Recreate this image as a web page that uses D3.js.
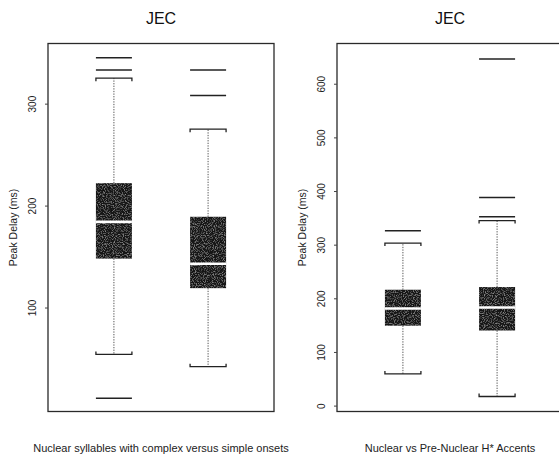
<!DOCTYPE html>
<html>
<head>
<meta charset="utf-8">
<script src="https://cdn.jsdelivr.net/npm/d3@7"></script>
<style>
  body { margin: 0; background: #fff; }
  svg { display: block; font-family: "Liberation Sans", Arial, sans-serif; }
</style>
</head>
<body>
<div id="chart"></div>
<script>
// Left panel: nuclear syllables, complex vs simple onsets
const leftCategories = ["Complex onset", "Simple onset"];
const leftLowerWhisker = [54, 42];
const leftQ1 = [148, 119];
const leftMedian = [184, 143];
const leftQ3 = [222, 189];
const leftUpperWhisker = [325, 275];
const leftOutliers = [[11, 333, 345], [308, 333]];
const leftTicks = [100, 200, 300];
const leftDomain = [-2, 359];

// Right panel: nuclear vs pre-nuclear H* accents
const rightCategories = ["Nuclear", "Pre-nuclear"];
const rightLowerWhisker = [59, 17];
const rightQ1 = [149, 140];
const rightMedian = [181, 183];
const rightQ3 = [216, 221];
const rightUpperWhisker = [303, 345];
const rightOutliers = [[326], [352, 388, 646]];
const rightTicks = [0, 100, 200, 300, 400, 500, 600];
const rightDomain = [-11, 675];

const W = 559, H = 454;
const plotTop = 43.5, plotBottom = 411.5, plotWidth = 226;
const boxW = 36;

const svg = d3.select("#chart").append("svg")
  .attr("width", W)
  .attr("height", H);

// scanned grain for the box fill
const defs = svg.append("defs");
const f = defs.append("filter").attr("id", "grain")
  .attr("x", 0).attr("y", 0).attr("width", 1).attr("height", 1);
f.append("feTurbulence").attr("type", "fractalNoise")
  .attr("baseFrequency", 0.9).attr("numOctaves", 1).attr("seed", 7).attr("result", "noise");
f.append("feColorMatrix").attr("in", "noise").attr("type", "matrix")
  .attr("values", "0 0 0 0 0.5 0 0 0 0 0.5 0 0 0 0 0.5 1.6 0 0 0 -0.78")
  .attr("result", "spk");
f.append("feComposite").attr("in", "spk").attr("in2", "SourceGraphic")
  .attr("operator", "in").attr("result", "spkIn");
const fm = f.append("feMerge");
fm.append("feMergeNode").attr("in", "SourceGraphic");
fm.append("feMergeNode").attr("in", "spkIn");

function drawPanel(left, cats, lo, q1, med, q3, hi, outs, ticks, domain, xlab) {
  const g = svg.append("g");
  const x = d3.scalePoint().domain(cats).range([left, left + plotWidth]).padding(0.7);
  const y = d3.scaleLinear().domain(domain).range([plotBottom, plotTop]);

  const rows = cats.map((c, i) => ({c, lo: lo[i], q1: q1[i], med: med[i], q3: q3[i], hi: hi[i], outs: outs[i]}));

  // frame
  g.append("rect")
    .attr("x", left).attr("y", plotTop)
    .attr("width", plotWidth).attr("height", plotBottom - plotTop)
    .attr("fill", "none").attr("stroke", "#2a2a2a").attr("stroke-width", 1.3);

  // y axis
  const axis = g.append("g")
    .attr("transform", `translate(${left},0)`)
    .call(d3.axisLeft(y).tickValues(ticks).tickSize(3).tickFormat(d3.format("d")));
  axis.select(".domain").remove();
  axis.selectAll(".tick line").attr("stroke", "#444");
  axis.selectAll(".tick text")
    .attr("x", null).attr("dy", null)
    .attr("transform", "translate(-12,0) rotate(-90)")
    .attr("text-anchor", "middle")
    .attr("font-size", 10)
    .attr("font-family", "Liberation Sans, Arial, sans-serif")
    .attr("fill", "#222");

  const b = g.selectAll(".bx").data(rows).enter().append("g").attr("class", "bx");

  // whiskers
  b.append("line")
    .attr("x1", d => x(d.c)).attr("x2", d => x(d.c))
    .attr("y1", d => y(d.q3)).attr("y2", d => y(d.hi))
    .attr("stroke", "#555").attr("stroke-dasharray", "1.3,1.3");
  b.append("line")
    .attr("x1", d => x(d.c)).attr("x2", d => x(d.c))
    .attr("y1", d => y(d.q1)).attr("y2", d => y(d.lo))
    .attr("stroke", "#555").attr("stroke-dasharray", "1.3,1.3");

  // caps
  b.append("path")
    .attr("d", d => `M${x(d.c) - boxW / 2},${y(d.hi) + 3}V${y(d.hi)}H${x(d.c) + boxW / 2}V${y(d.hi) + 3}`)
    .attr("fill", "none").attr("stroke", "#222").attr("stroke-width", 1.3);
  b.append("path")
    .attr("d", d => `M${x(d.c) - boxW / 2},${y(d.lo) - 3}V${y(d.lo)}H${x(d.c) + boxW / 2}V${y(d.lo) - 3}`)
    .attr("fill", "none").attr("stroke", "#222").attr("stroke-width", 1.3);

  // boxes
  b.append("rect")
    .attr("x", d => x(d.c) - boxW / 2)
    .attr("y", d => y(d.q3))
    .attr("width", boxW)
    .attr("height", d => y(d.q1) - y(d.q3))
    .attr("fill", "#161616")
    .attr("filter", "url(#grain)");

  // medians
  b.append("line")
    .attr("x1", d => x(d.c) - boxW / 2).attr("x2", d => x(d.c) + boxW / 2)
    .attr("y1", d => y(d.med)).attr("y2", d => y(d.med))
    .attr("stroke", "#fff").attr("stroke-width", 2.6);

  // outliers
  b.selectAll(".out").data(d => d.outs.map(v => ({c: d.c, v}))).enter().append("line")
    .attr("x1", d => x(d.c) - boxW / 2).attr("x2", d => x(d.c) + boxW / 2)
    .attr("y1", d => y(d.v)).attr("y2", d => y(d.v))
    .attr("stroke", "#222").attr("stroke-width", 1.5);

  // title
  g.append("text")
    .attr("x", left + plotWidth / 2).attr("y", 24)
    .attr("text-anchor", "middle")
    .attr("font-size", 16).attr("fill", "#111")
    .text("JEC");

  // y label
  g.append("text")
    .attr("transform", `translate(${left - 31},${(plotTop + plotBottom) / 2}) rotate(-90)`)
    .attr("text-anchor", "middle")
    .attr("font-size", 10.5).attr("fill", "#222")
    .text("Peak Delay (ms)");

  // x label
  g.append("text")
    .attr("x", left + plotWidth / 2).attr("y", 452)
    .attr("text-anchor", "middle")
    .attr("font-size", 11).attr("fill", "#222")
    .text(xlab);
}

drawPanel(48, leftCategories, leftLowerWhisker, leftQ1, leftMedian, leftQ3, leftUpperWhisker,
  leftOutliers, leftTicks, leftDomain, "Nuclear syllables with complex versus simple onsets");
drawPanel(337, rightCategories, rightLowerWhisker, rightQ1, rightMedian, rightQ3, rightUpperWhisker,
  rightOutliers, rightTicks, rightDomain, "Nuclear vs Pre-Nuclear H* Accents");
</script>
</body>
</html>
